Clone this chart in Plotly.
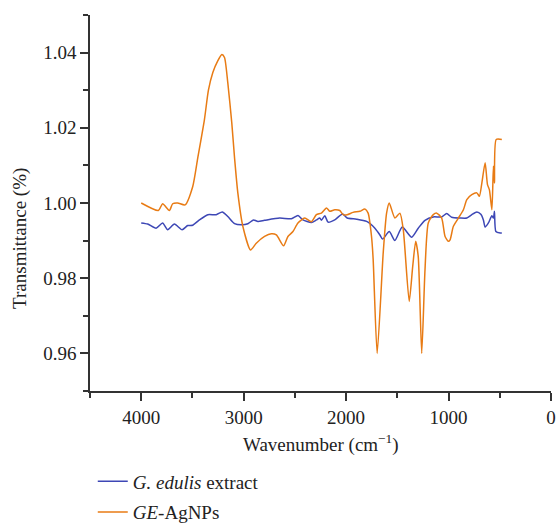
import plotly.graph_objects as go

# G. edulis extract
wn_extract = [4000, 3937, 3855, 3791, 3742, 3676, 3601, 3546, 3497, 3432, 3350, 3268, 3209, 3155,
              3089, 3018, 2959, 2903, 2861, 2796, 2649, 2534, 2470, 2421, 2339, 2290, 2257, 2241,
              2208, 2176, 2111, 2035, 1990, 1898, 1800, 1719, 1670, 1644, 1579, 1524, 1452, 1360,
              1296, 1230, 1149, 1067, 1018, 969, 887, 822, 773, 724, 685, 660, 643, 611, 577, 562,
              552, 538, 496, 480]
t_extract = [0.9947, 0.9944, 0.9933, 0.9947, 0.9929, 0.9944, 0.9929, 0.9940, 0.9941, 0.9955,
             0.9969, 0.9969, 0.9976, 0.9964, 0.9945, 0.9942, 0.9945, 0.9955, 0.9951, 0.9954,
             0.9960, 0.9958, 0.9967, 0.9955, 0.9948, 0.9955, 0.9960, 0.9954, 0.9966, 0.9949,
             0.9955, 0.9971, 0.9960, 0.9957, 0.9951, 0.9933, 0.9915, 0.9904, 0.9924, 0.9900,
             0.9936, 0.9909, 0.9933, 0.9954, 0.9963, 0.9963, 0.9972, 0.9962, 0.9960, 0.9960,
             0.9969, 0.9976, 0.9970, 0.9955, 0.9936, 0.9947, 0.9966, 0.9960, 0.9978, 0.9924,
             0.9920, 0.9920]

# GE-AgNPs
wn_agnp = [4000, 3833, 3791, 3725, 3693, 3644, 3572, 3497, 3448, 3383, 3344, 3301, 3253, 3213,
           3187, 3155, 3116, 3089, 3057, 3008, 2933, 2877, 2796, 2730, 2681, 2610, 2568, 2519,
           2470, 2404, 2339, 2290, 2241, 2192, 2160, 2111, 2062, 2029, 1990, 1932, 1866, 1817,
           1785, 1752, 1736, 1697, 1638, 1605, 1579, 1524, 1475, 1442, 1384, 1350, 1321, 1296,
           1262, 1230, 1198, 1149, 1115, 1067, 1034, 1002, 985, 953, 904, 855, 822, 773, 724,
           699, 675, 643, 620, 601, 577, 562, 552, 535, 480]
t_agnp = [1.0000, 0.9980, 0.9998, 0.9980, 0.9998, 1.0000, 0.9995, 1.0044, 1.0120, 1.0222, 1.0300,
          1.0347, 1.0378, 1.0395, 1.0387, 1.0320, 1.0213, 1.0120, 1.0027, 0.9938, 0.9875, 0.9893,
          0.9911, 0.9918, 0.9915, 0.9886, 0.9911, 0.9924, 0.9947, 0.9960, 0.9950, 0.9969, 0.9973,
          0.9987, 0.9978, 0.9982, 0.9980, 0.9969, 0.9969, 0.9975, 0.9978, 0.9984, 0.9973, 0.9911,
          0.9850, 0.9600, 0.9867, 0.9973, 1.0000, 0.9960, 0.9973, 0.9929, 0.9738, 0.9831, 0.9898,
          0.9858, 0.9600, 0.9822, 0.9947, 0.9969, 0.9973, 0.9960, 0.9911, 0.9898, 0.9902, 0.9938,
          0.9960, 0.9982, 1.0009, 1.0022, 1.0027, 1.0018, 1.0053, 1.0107, 1.0049, 1.0035, 0.9982,
          1.0098, 1.0053, 1.0169, 1.0169]

x_ticks = [4000, 3000, 2000, 1000, 0]
y_ticks = [0.96, 0.98, 1.00, 1.02, 1.04]

FONT = "Liberation Serif"
AXC = "#333333"

fig = go.Figure()
fig.add_trace(go.Scatter(x=wn_extract, y=t_extract, mode="lines",
                         name="<i>G. edulis</i> extract", legendgroup="a",
                         line=dict(color="#3D47B5", width=1.5, shape="spline", smoothing=0.6)))
fig.add_trace(go.Scatter(x=wn_agnp, y=t_agnp, mode="lines",
                         name="<i>GE</i>-AgNPs", legendgroup="b",
                         line=dict(color="#E87B14", width=1.5, shape="spline", smoothing=0.6)))

fig.update_layout(
    width=557, height=523,
    margin=dict(l=90, r=6, t=15, b=132, autoexpand=False),
    paper_bgcolor="white", plot_bgcolor="white",
    font=dict(family=FONT, size=19, color="#222222"),
    showlegend=True,
    legend=dict(x=0.006, xanchor="left", y=-0.19, yanchor="top",
                font=dict(family=FONT, size=19, color="#222222"),
                bgcolor="rgba(0,0,0,0)", tracegroupgap=3),
    xaxis=dict(range=[4500, 0], tickvals=x_ticks, ticks="outside", ticklen=8, tickwidth=1.5,
               tickcolor=AXC, showline=True, linecolor=AXC, linewidth=1.5, showgrid=False,
               zeroline=False, minor=dict(dtick=500, tick0=0, ticks="outside", ticklen=5,
                                          tickwidth=1.5, tickcolor=AXC, showgrid=False),
               tickfont=dict(family=FONT, size=19)),
    yaxis=dict(range=[0.95, 1.05], tickvals=y_ticks, tickformat=".2f", ticks="outside",
               ticklen=8, tickwidth=1.5, tickcolor=AXC, showline=True, linecolor=AXC,
               linewidth=1.5, showgrid=False, zeroline=False,
               minor=dict(dtick=0.01, tick0=0.95, ticks="outside", ticklen=5, tickwidth=1.5,
                          tickcolor=AXC, showgrid=False),
               tickfont=dict(family=FONT, size=19)),
    annotations=[
        dict(text="Transmittance (%)", xref="paper", yref="paper", x=-0.152, y=0.407,
             textangle=-90, showarrow=False, xanchor="center", yanchor="middle",
             font=dict(family=FONT, size=19)),
        dict(text="Wavenumber (cm<sup>−1</sup>)", xref="paper", yref="paper", x=0.5, y=-0.14,
             showarrow=False, xanchor="center", yanchor="middle",
             font=dict(family=FONT, size=19)),
    ],
)

fig.write_html("out.html")
